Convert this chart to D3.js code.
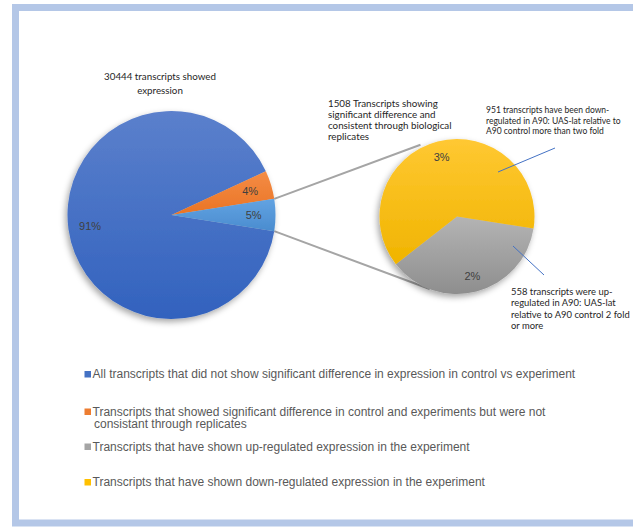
<!DOCTYPE html>
<html>
<head>
<meta charset="utf-8">
<script src="https://cdn.jsdelivr.net/npm/d3@7"></script>
<style>
  html, body { margin: 0; padding: 0; background: #ffffff; }
  svg { display: block; }
</style>
</head>
<body>
<script>
// ---------- data ----------
const totalTranscripts = 30444;
const mainCategories = ["All transcripts that did not show significant difference in expression in control vs experiment",
                        "Transcripts that showed significant difference in control and experiments but were not consistant through replicates"];
const mainValues = [27586, 1350];
const subCategories = ["Transcripts that have shown up-regulated expression in the experiment",
                       "Transcripts that have shown down-regulated expression in the experiment"];
const subValues = [558, 951];
const legendLabels = [
  ["All transcripts that did not show significant difference in expression in control vs experiment"],
  ["Transcripts that showed significant difference in control and experiments but were not", "consistant through replicates"],
  ["Transcripts that have shown up-regulated expression in the experiment"],
  ["Transcripts that have shown down-regulated expression in the experiment"]
];
const annotMain = ["30444 transcripts showed", "expression"];
const annotSub = ["1508 Transcripts showing", "significant difference and", "consistent through biological", "replicates"];
const annotDown = ["951 transcripts have been down-", "regulated in A90: UAS-lat relative to", "A90 control more than two fold"];
const annotUp = ["558 transcripts were up-", "regulated in A90: UAS-lat", "relative to A90 control 2 fold", "or more"];

// ---------- layout ----------
const W = 633, H = 527;
const svg = d3.select("body").append("svg").attr("width", W).attr("height", H);
const defs = svg.append("defs");

function grad(id, top, bottom) {
  const g = defs.append("linearGradient").attr("id", id).attr("x1", 0).attr("y1", 0).attr("x2", 0).attr("y2", 1);
  g.append("stop").attr("offset", "0%").attr("stop-color", top);
  g.append("stop").attr("offset", "100%").attr("stop-color", bottom);
}
grad("gBlue", "#5b80cc", "#3262be");
grad("gOrange", "#f48c45", "#ea7424");
grad("gLight", "#62a3e2", "#4a8ccf");
grad("gGray", "#b4b4b4", "#8e8e8e");
grad("gYellow", "#ffc832", "#f0b400");

const f = defs.append("filter").attr("id", "shadow").attr("x", "-20%").attr("y", "-20%").attr("width", "140%").attr("height", "140%");
f.append("feDropShadow").attr("dx", -2).attr("dy", 3).attr("stdDeviation", 3).attr("flood-color", "#000").attr("flood-opacity", 0.35);

// frame
svg.append("rect").attr("x", 15.5).attr("y", 7.5).attr("width", 700).attr("height", 515.5)
  .attr("fill", "#ffffff").attr("stroke", "#b4c7e7").attr("stroke-width", 7);

const mainColors = ["url(#gBlue)", "url(#gOrange)", "url(#gLight)"];
const subColors = ["url(#gGray)", "url(#gYellow)"];
const legendColors = ["#4472c4", "#ed7d31", "#a5a5a5", "#ffc000"];

const otherValue = d3.sum(subValues);
const mainData = mainValues.concat([otherValue]);
const otherAngle = 2 * Math.PI * otherValue / d3.sum(mainData);

const cx1 = 171.5, cy1 = 215, r1 = 104;
const cx2 = 457, cy2 = 216.5, r2 = 77.5;

const pieMain = d3.pie().sort(null)
  .startAngle(Math.PI / 2 + otherAngle / 2 - 2 * Math.PI)
  .endAngle(Math.PI / 2 + otherAngle / 2);
const pieSub = d3.pie().sort(null)
  .startAngle(Math.PI / 2 + otherAngle / 2)
  .endAngle(Math.PI / 2 + otherAngle / 2 + 2 * Math.PI);

const arcMain = d3.arc().innerRadius(0).outerRadius(r1);
const arcMainLbl = d3.arc().innerRadius(r1 * 0.79).outerRadius(r1 * 0.79);
const arcSub = d3.arc().innerRadius(0).outerRadius(r2);
const arcSubLbl = d3.arc().innerRadius(r2 * 0.79).outerRadius(r2 * 0.79);

const mainArcs = pieMain(mainData);
const subArcs = pieSub(subValues);

const pct = v => Math.round(100 * v / totalTranscripts) + "%";

// connectors
const oth = mainArcs[2];
const pt = (cx, cy, r, a) => [cx + r * Math.sin(a), cy - r * Math.cos(a)];
const a1 = pt(cx1, cy1, r1, oth.startAngle), a2 = pt(cx1, cy1, r1, oth.endAngle);
const b1 = pt(cx2, cy2, r2 + 3, -27 * Math.PI / 180), b2 = pt(cx2, cy2, r2, 200.6 * Math.PI / 180);
svg.append("g").selectAll("line").data([[a1, b1], [a2, b2]]).join("line")
  .attr("x1", d => d[0][0]).attr("y1", d => d[0][1])
  .attr("x2", d => d[1][0]).attr("y2", d => d[1][1])
  .attr("stroke", "#a5a5a5").attr("stroke-width", 2);

// main pie
const g1 = svg.append("g").attr("transform", `translate(${cx1},${cy1})`);
g1.append("g").attr("filter", "url(#shadow)").selectAll("path").data(mainArcs).join("path")
  .attr("d", arcMain).attr("fill", (d, i) => mainColors[i]);
g1.selectAll("text").data(mainArcs).join("text")
  .attr("transform", d => `translate(${arcMainLbl.centroid(d)})`)
  .attr("text-anchor", "middle").attr("dy", "0.35em")
  .attr("font-family", "Liberation Sans, Arial, sans-serif").attr("font-size", 11)
  .attr("fill", "#404040").text(d => pct(d.value));

// sub pie
const g2 = svg.append("g").attr("transform", `translate(${cx2},${cy2})`);
g2.append("g").attr("filter", "url(#shadow)").selectAll("path").data(subArcs).join("path")
  .attr("d", arcSub).attr("fill", (d, i) => subColors[i]);
g2.selectAll("text").data(subArcs).join("text")
  .attr("transform", d => `translate(${arcSubLbl.centroid(d)})`)
  .attr("text-anchor", "middle").attr("dy", "0.35em")
  .attr("font-family", "Liberation Sans, Arial, sans-serif").attr("font-size", 11)
  .attr("fill", "#404040").text(d => pct(d.value));

// annotation pointer lines
svg.append("g").selectAll("line").data([[[498, 172], [555, 148]], [[513, 246], [544, 275]]]).join("line")
  .attr("x1", d => d[0][0]).attr("y1", d => d[0][1])
  .attr("x2", d => d[1][0]).attr("y2", d => d[1][1])
  .attr("stroke", "#4472c4").attr("stroke-width", 1);

// annotations: each line a separate text; font size fitted so that a reference line has the target width
function block(lines, x, yCenters, refLine, targetW, anchor) {
  const fam = "Lato, Carlito, Calibri, sans-serif";
  const probe = svg.append("text").attr("font-family", fam).attr("font-size", 10).text(lines[refLine]);
  const size = 10 * targetW / probe.node().getComputedTextLength();
  probe.remove();
  const g = svg.append("g");
  lines.forEach((l, i) => g.append("text").attr("x", x).attr("y", yCenters[i]).attr("dy", "0.35em")
    .attr("font-family", fam).attr("font-size", size)
    .attr("fill", "#262626").attr("text-anchor", anchor).text(l));
}
block(annotMain, 160, [77, 90.5], 0, 112, "middle");
block(annotSub, 328, [103.5, 114.5, 125.5, 137], 0, 110, "start");
block(annotDown, 486, [110.5, 121, 131.5], 1, 135, "start");
block(annotUp, 511, [292, 303, 314.3, 325.7], 2, 119, "start");

// legend
const rowsY = [374, 411.5, 446.5, 482];
const lg = svg.append("g");
legendLabels.forEach((lines, i) => {
  lg.append("rect").attr("x", 84.5).attr("y", rowsY[i] - 3).attr("width", 6.5).attr("height", 6.5).attr("fill", legendColors[i]);
  lines.forEach((l, j) => lg.append("text").attr("x", j ? 94 : 92.5).attr("y", rowsY[i] + j * 12.5).attr("dy", "0.35em")
    .attr("font-family", "Liberation Sans, Arial, sans-serif").attr("font-size", 12).attr("fill", "#595959").text(l));
});
</script>
</body>
</html>
